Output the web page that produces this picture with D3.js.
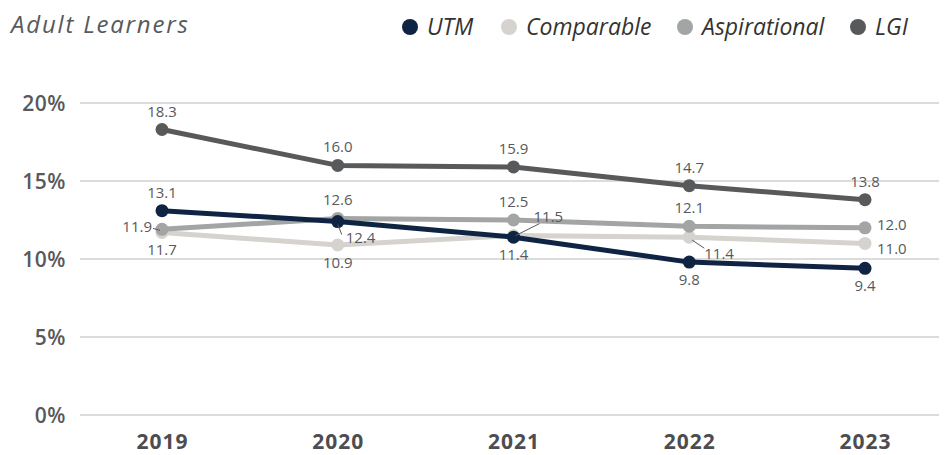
<!DOCTYPE html>
<html>
<head>
<meta charset="utf-8">
<script src="https://cdn.jsdelivr.net/npm/d3@7"></script>
<style>
  html, body { margin: 0; padding: 0; background: #fff; }
  svg { display: block; font-family: "Open Sans", sans-serif; }
</style>
</head>
<body>
<svg id="chart" width="948" height="455"></svg>
<script>
// Adult learner share by year, four comparison groups
const years = ["2019", "2020", "2021", "2022", "2023"];
const utm = [13.1, 12.4, 11.4, 9.8, 9.4];
const comparable = [11.7, 10.9, 11.5, 11.4, 11.0];
const aspirational = [11.9, 12.6, 12.5, 12.1, 12.0];
const lgi = [18.3, 16.0, 15.9, 14.7, 13.8];
const yTicks = [0, 5, 10, 15, 20];
const seriesNames = ["UTM", "Comparable", "Aspirational", "LGI"];

// Where each value label sits relative to its point
const labelPlacement = {
  UTM: ["above", "belowRightLeader", "below", "below", "below"],
  Comparable: ["below", "below", "upRightLeader", "downRightLeader", "rightDown"],
  Aspirational: ["leftLeader", "above", "above", "above", "rightUp"],
  LGI: ["above", "above", "above", "above", "above"]
};

const colors = {
  UTM: "#0f2343",
  Comparable: "#d6d3ce",
  Aspirational: "#a3a4a4",
  LGI: "#58595b"
};

const series = [
  { name: "Comparable", values: comparable },
  { name: "Aspirational", values: aspirational },
  { name: "LGI", values: lgi },
  { name: "UTM", values: utm }
];

const svg = d3.select("#chart");
const x = d3.scalePoint().domain(years).range([162, 865]);
const y = d3.scaleLinear().domain([0, 20]).range([415, 103]);

// Gridlines
svg.append("g")
  .selectAll("line")
  .data(yTicks)
  .join("line")
  .attr("x1", 80).attr("x2", 939)
  .attr("y1", d => y(d)).attr("y2", d => y(d))
  .attr("stroke", "#dcdcdc")
  .attr("stroke-width", 2);

// Y axis labels
const yAxis = d3.axisLeft(y).tickValues(yTicks).tickFormat(d => d + "%").tickSize(0).tickPadding(0);
const yg = svg.append("g").attr("transform", "translate(66,0)").call(yAxis);
yg.select(".domain").remove();
yg.selectAll("text")
  .attr("font-family", "'Open Sans', sans-serif")
  .attr("font-size", 21)
  .attr("font-weight", 600)
  .attr("letter-spacing", 0.5)
  .attr("fill", "#58595b")
  .attr("dy", "0.36em");

// X axis labels
const xAxis = d3.axisBottom(x).tickSize(0).tickPadding(0);
const xg = svg.append("g").call(xAxis);
xg.select(".domain").remove();
xg.selectAll("text")
  .attr("font-family", "'Open Sans', sans-serif")
  .attr("font-size", 21)
  .attr("font-weight", 700)
  .attr("letter-spacing", 1)
  .attr("fill", "#4d4d4f")
  .attr("y", 449)
  .attr("dy", 0);

// Lines and points
const line = d3.line().x((d, i) => x(years[i])).y(d => y(d));
const groups = svg.append("g")
  .selectAll("g")
  .data(series)
  .join("g");

groups.append("path")
  .attr("d", d => line(d.values))
  .attr("fill", "none")
  .attr("stroke", d => colors[d.name])
  .attr("stroke-width", 5)
  .attr("stroke-linejoin", "round");

groups.selectAll("circle")
  .data(d => d.values.map((v, i) => ({ name: d.name, v, i })))
  .join("circle")
  .attr("cx", d => x(years[d.i]))
  .attr("cy", d => y(d.v))
  .attr("r", 6.5)
  .attr("fill", d => colors[d.name]);

// Value labels
const labelLayer = svg.append("g");
const labelItems = [];
series.forEach(s => s.values.forEach((v, i) => labelItems.push({ name: s.name, v, i })));

labelItems.forEach(d => {
  const px = x(years[d.i]);
  const py = y(d.v);
  const place = labelPlacement[d.name][d.i];
  let tx = px, ty = py, anchor = "middle", leader = null;
  if (place === "above") { ty = py - 13; }
  else if (place === "below") { ty = py + 23; }
  else if (place === "rightUp") { tx = px + 12; ty = py + 2; anchor = "start"; }
  else if (place === "rightDown") { tx = px + 12; ty = py + 11; anchor = "start"; }
  else if (place === "leftLeader") { tx = px - 10; ty = py + 3; anchor = "end"; leader = [px - 9, py - 1, px - 2, py + 1]; }
  else if (place === "belowRightLeader") { tx = px + 8; ty = py + 21; anchor = "start"; leader = [px, py + 3, px + 4, py + 13]; }
  else if (place === "upRightLeader") { tx = px + 20; ty = py - 14; anchor = "start"; leader = [px + 2, py, px + 26, py - 12]; }
  else if (place === "downRightLeader") { tx = px + 15; ty = py + 22; anchor = "start"; leader = [px + 3, py + 3, px + 15, py + 11]; }

  if (leader) {
    labelLayer.append("line")
      .attr("x1", leader[0]).attr("y1", leader[1])
      .attr("x2", leader[2]).attr("y2", leader[3])
      .attr("stroke", "#58595b")
      .attr("stroke-width", 1);
  }
  labelLayer.append("text")
    .attr("x", tx).attr("y", ty)
    .attr("text-anchor", anchor)
    .attr("font-size", 15)
    .attr("fill", "#58595b")
    .text(d.v.toFixed(1));
});

// Title
svg.append("text")
  .attr("x", 11).attr("y", 33)
  .attr("font-size", 24)
  .attr("font-style", "italic")
  .attr("letter-spacing", 1.8)
  .attr("fill", "#58595b")
  .text("Adult Learners");

// Legend
const legendX = [410, 509, 685, 858];
const legend = svg.append("g")
  .selectAll("g")
  .data(seriesNames)
  .join("g")
  .attr("transform", (d, i) => `translate(${legendX[i]},27)`);
legend.append("circle").attr("r", 8).attr("fill", d => colors[d]);
legend.append("text")
  .attr("x", 17).attr("y", 8)
  .attr("font-size", 23)
  .attr("font-style", "italic")
  .attr("fill", "#333")
  .text(d => d);
</script>
</body>
</html>
